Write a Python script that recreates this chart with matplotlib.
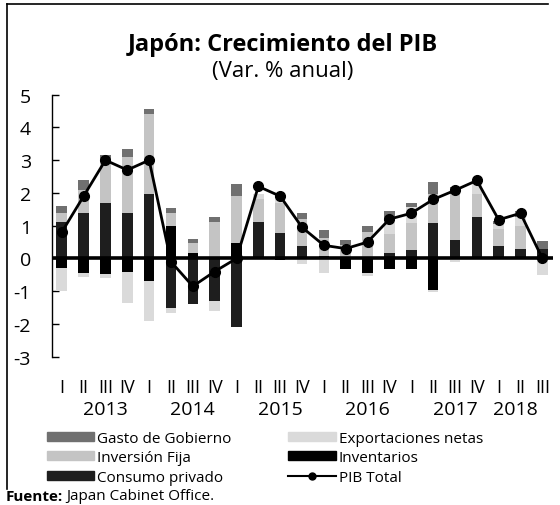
import matplotlib
matplotlib.use("Agg")
import matplotlib.pyplot as plt
import numpy as np
from matplotlib.patches import Patch
from matplotlib.lines import Line2D

# ---------------- data ----------------
quarters = ["I", "II", "III", "IV"] * 5 + ["I", "II", "III"]
years = ["2013", "2014", "2015", "2016", "2017", "2018"]

consumo_privado = [1.10, 1.40, 1.70, 1.40, 1.97, -1.50, -1.40, -1.30, -2.10, 1.10, 0.79, 0.39,
                   0.08, 0.00, 0.00, 0.16, 0.27, 1.08, 0.57, 1.27, 0.39, 0.29, 0.30]
inventarios = [-0.30, -0.43, -0.48, -0.40, -0.70, 1.00, 0.18, 0.00, 0.47, 0.00, -0.05, 0.00,
               0.00, -0.33, -0.43, -0.31, -0.31, -0.95, 0.00, 0.00, 0.00, 0.00, 0.00]
inversion_fija = [0.30, 0.70, 1.25, 1.70, 2.45, 0.40, 0.28, 1.10, 1.44, 0.70, 0.90, 0.80,
                  0.55, 0.40, 0.80, 0.60, 0.80, 0.90, 1.40, 0.70, 0.50, 0.70, 0.00]
exportaciones_netas = [-0.70, -0.15, -0.12, -0.97, -1.20, -0.18, 0.00, -0.30, 0.00, 0.16, 0.22, -0.17,
                       -0.43, 0.00, -0.10, 0.40, 0.51, -0.07, -0.12, 0.30, 0.16, 0.27, -0.51]
gasto_gobierno = [0.20, 0.30, 0.20, 0.25, 0.15, 0.15, 0.13, 0.17, 0.36, 0.00, 0.00, 0.20,
                  0.25, 0.17, 0.18, 0.30, 0.10, 0.34, 0.20, 0.00, 0.10, 0.20, 0.24]
pib_total = [0.80, 1.90, 3.00, 2.70, 3.00, -0.10, -0.85, -0.40, 0.00, 2.20, 1.90, 0.95,
             0.40, 0.30, 0.50, 1.20, 1.38, 1.80, 2.08, 2.38, 1.18, 1.38, 0.00]

C_CONS = "#1e1e1e"
C_INVT = "#000000"
C_INVF = "#c4c4c4"
C_EXPO = "#dadada"
C_GOB = "#707070"

series = [
    ("Consumo privado", consumo_privado, C_CONS),
    ("Inventarios", inventarios, C_INVT),
    ("Inversión Fija", inversion_fija, C_INVF),
    ("Exportaciones netas", exportaciones_netas, C_EXPO),
    ("Gasto de Gobierno", gasto_gobierno, C_GOB),
]

FONT = "Open Sans"
plt.rcParams["font.family"] = [FONT, "DejaVu Sans"]

W, H = 560, 506
fig = plt.figure(figsize=(W / 100, H / 100), dpi=100)
ax = fig.add_axes([0.0923, 0.2931, 0.988 - 0.0923, 0.8109 - 0.2931])

x = np.arange(len(pib_total))
pos_base = np.zeros(len(x))
neg_base = np.zeros(len(x))
width = 0.48
for name, vals, col in series:
    v = np.array(vals)
    p = np.where(v > 0, v, 0)
    n = np.where(v < 0, v, 0)
    ax.bar(x, p, width, bottom=pos_base, color=col, linewidth=0, zorder=2)
    ax.bar(x, n, width, bottom=neg_base, color=col, linewidth=0, zorder=2)
    pos_base += p
    neg_base += n

ax.axhline(0, color="black", lw=2.6, zorder=3)
ax.plot(x, pib_total, color="black", lw=2.0, marker="o", ms=7, zorder=4)

ax.set_xlim(-0.46, 22.5)
ax.set_ylim(-3, 5)
for s in ["top", "right", "bottom"]:
    ax.spines[s].set_visible(False)
ax.spines["left"].set_linewidth(1.0)
ax.set_yticks(range(-3, 6))
ax.set_yticklabels([str(v) for v in range(-3, 6)], fontsize=14)
ax.tick_params(axis="y", direction="in", length=5, width=1, pad=15)
ax.set_xticks(x)
ax.set_xticklabels(quarters, fontsize=13)
ax.tick_params(axis="x", length=0, pad=15)

year_pos = [2, 6, 10, 14, 18, 20.75]
for yp, yl in zip(year_pos, years):
    ax.text(yp, -0.2, yl, transform=ax.get_xaxis_transform(), ha="center", va="center",
            fontsize=14)

fig.text(0.505, 1 - 45 / H, "Japón: Crecimiento del PIB", ha="center", va="center",
         fontsize=17, fontweight="bold")
fig.text(0.505, 1 - 72 / H, "(Var. % anual)", ha="center", va="center", fontsize=16)

handles = [
    Patch(color=C_GOB, label="Gasto de Gobierno"),
    Patch(color=C_INVF, label="Inversión Fija"),
    Patch(color=C_CONS, label="Consumo privado"),
    Patch(color=C_EXPO, label="Exportaciones netas"),
    Patch(color=C_INVT, label="Inventarios"),
    Line2D([0], [0], color="black", lw=1.5, marker="o", ms=5, label="PIB Total"),
]
fig.legend(handles=handles, ncol=2, loc="upper left", bbox_to_anchor=(47 / W, 1 - 432 / H),
           frameon=False, fontsize=11, borderpad=0, borderaxespad=0,
           handlelength=3.1, handleheight=0.55, handletextpad=0.2,
           columnspacing=3.7, labelspacing=0.28)

# source note
t1 = fig.text(6 / W, 1 - 497 / H, "Fuente:", ha="left", va="center", fontsize=11,
              fontweight="bold")
fig.canvas.draw()
bb = t1.get_window_extent(renderer=fig.canvas.get_renderer())
fig.text(bb.x1 / W + 3 / W, 1 - 497 / H, "Japan Cabinet Office.", ha="left", va="center",
         fontsize=11)

# frame lines (left and top)
fig.add_artist(Line2D([7 / W, 7 / W], [1 - 5 / H, 1 - 490 / H], color="black", lw=1.2,
                      transform=fig.transFigure))
fig.add_artist(Line2D([7 / W, 548 / W], [1 - 5 / H, 1 - 5 / H], color="black", lw=1.2,
                      transform=fig.transFigure))

fig.savefig("out.png", dpi=100)
